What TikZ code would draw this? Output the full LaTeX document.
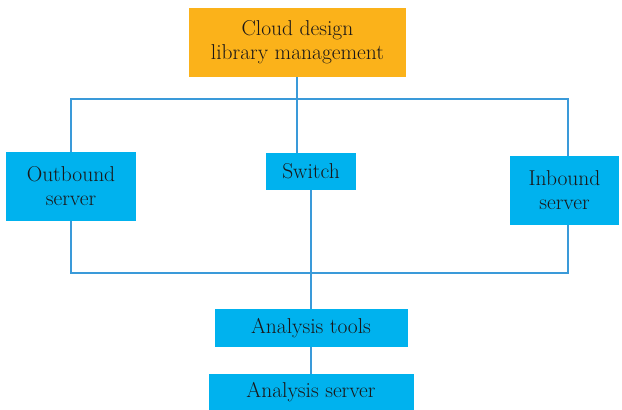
\documentclass[tikz,border=0pt]{standalone}
\usepackage{fontspec}
\definecolor{boxblue}{HTML}{00B2EE}
\definecolor{boxorange}{HTML}{FBB21A}
\definecolor{linkblue}{HTML}{3A9AD9}
\definecolor{txt}{HTML}{1A1718}
\begin{document}
\begin{tikzpicture}[x=1pt,y=-1pt,
  box/.style={rectangle, fill=boxblue, inner sep=0pt, align=center, text=txt,
    font=\rmfamily\fontsize{21.5}{24}\selectfont},
  topbox/.style={box, fill=boxorange},
  link/.style={draw=linkblue, line width=1.5pt}]
\useasboundingbox (0,0) rectangle (622,410);
\node[topbox, minimum width=217pt, minimum height=69pt] (top) at (297.5,42.5) {Cloud design\\library management};
\node[box, minimum width=130pt, minimum height=69pt] (out) at (71,186.5) {Outbound\\server};
\node[box, minimum width=90pt, minimum height=37pt] (sw) at (311,171.5) {Switch};
\node[box, minimum width=109pt, minimum height=69pt] (in) at (564.5,190.5) {Inbound\\server};
\node[box, minimum width=193pt, minimum height=38pt] (tools) at (311,328) {Analysis tools};
\node[box, minimum width=205pt, minimum height=36pt] (srv) at (311,392) {Analysis server};
\coordinate (tr) at (568,99);
\coordinate (br) at (568,273);
\coordinate (tl) at (297,99);
\draw[link] (top.south -| tl) -- (sw.north -| tl);
\draw[link] (out.north) |- (tr) -- (in.north -| tr);
\draw[link] (out.south) |- (br) -- (in.south -| br);
\draw[link] (sw.south) -- (tools.north);
\draw[link] (tools.south) -- (srv.north);
\end{tikzpicture}
\end{document}
